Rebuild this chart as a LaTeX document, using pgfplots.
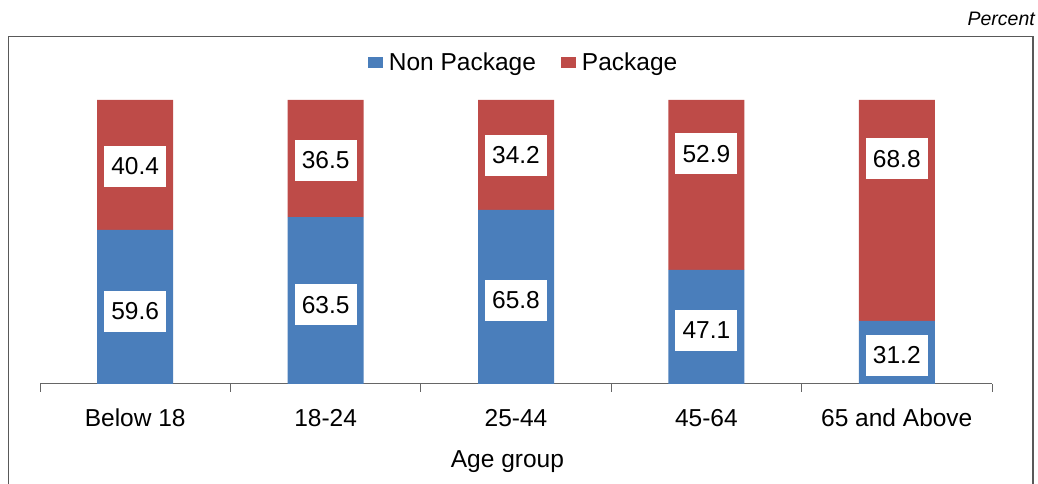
\documentclass[border=0pt]{standalone}
\usepackage{pgfplots}
\pgfplotsset{compat=1.18}
\usepackage{fontspec}
\setmainfont{Liberation Sans}
\definecolor{npblue}{HTML}{4A7EBB}
\definecolor{pkred}{HTML}{BE4B48}
\definecolor{framegray}{HTML}{595959}
\begin{document}
\begin{tikzpicture}[lbl/.style={fill=white, minimum width=62pt, minimum height=41pt, inner sep=0pt, font=\fontsize{24.5}{29}\selectfont}]
\useasboundingbox (0,0) rectangle (1038pt,484pt);
\draw[line width=1.5pt, framegray] (8.5pt,-20pt) rectangle (1033pt,447.3pt);
\node[anchor=base east, font=\fontsize{19.5}{22}\selectfont\itshape, inner sep=0pt] at (1035pt,458pt) {Percent};
\begin{axis}[
  at={(40pt,100pt)}, anchor=south west,
  scale only axis, width=952pt, height=284pt,
  ybar stacked, bar width=76pt,
  xmin=-0.5, xmax=4.5, ymin=11.58, ymax=100,
  axis x line*=bottom, axis y line=none,
  x axis line style={draw=black!60, line width=1pt, -},
  xtick={0,1,2,3,4},
  xticklabels={Below 18,18-24,25-44,45-64,65 and Above},
  major tick length=0pt,
  minor xtick={-0.5,0.5,1.5,2.5,3.5,4.5},
  minor tick length=8pt, tick align=outside,
  minor x tick style={draw=black!60, line width=1pt},
  xticklabel style={anchor=base, yshift=-42.7pt, font=\fontsize{24.5}{29}\selectfont, inner sep=0pt},
  xlabel={Age group},
  xlabel style={at={(axis description cs:0.491,0)}, anchor=base, yshift=-83.7pt, font=\fontsize{24.5}{29}\selectfont, inner sep=0pt},
  legend columns=2,
  legend style={draw=none, fill=none, at={(axis description cs:0.5074,1.132)}, anchor=center,
    font=\fontsize{24.5}{29}\selectfont,
    /tikz/every even column/.append style={column sep=24pt},
    nodes={inner sep=1pt}},
  legend image code/.code={\fill[#1] (0pt,-5.2pt) rectangle (15pt,5.2pt); \path (20pt,0pt);},
  clip=true,
]
\addplot[fill=npblue, draw=none] coordinates {(0,59.6) (1,63.5) (2,65.8) (3,47.1) (4,31.2)};
\addplot[fill=pkred, draw=none] coordinates {(0,40.4) (1,36.5) (2,34.2) (3,52.9) (4,68.8)};
\legend{Non Package, Package}
\coordinate (a1) at (axis cs:0,79.3);
\coordinate (b1) at (axis cs:0,34.2);
\coordinate (a2) at (axis cs:1,81.2);
\coordinate (b2) at (axis cs:1,36.3);
\coordinate (a3) at (axis cs:2,82.8);
\coordinate (b3) at (axis cs:2,37.6);
\coordinate (a4) at (axis cs:3,83.2);
\coordinate (b4) at (axis cs:3,28.3);
\coordinate (a5) at (axis cs:4,81.7);
\coordinate (b5) at (axis cs:4,20.5);
\end{axis}
\node[lbl] at (a1) {40.4};
\node[lbl] at (b1) {59.6};
\node[lbl] at (a2) {36.5};
\node[lbl] at (b2) {63.5};
\node[lbl] at (a3) {34.2};
\node[lbl] at (b3) {65.8};
\node[lbl] at (a4) {52.9};
\node[lbl] at (b4) {47.1};
\node[lbl] at (a5) {68.8};
\node[lbl] at (b5) {31.2};
\end{tikzpicture}
\end{document}
